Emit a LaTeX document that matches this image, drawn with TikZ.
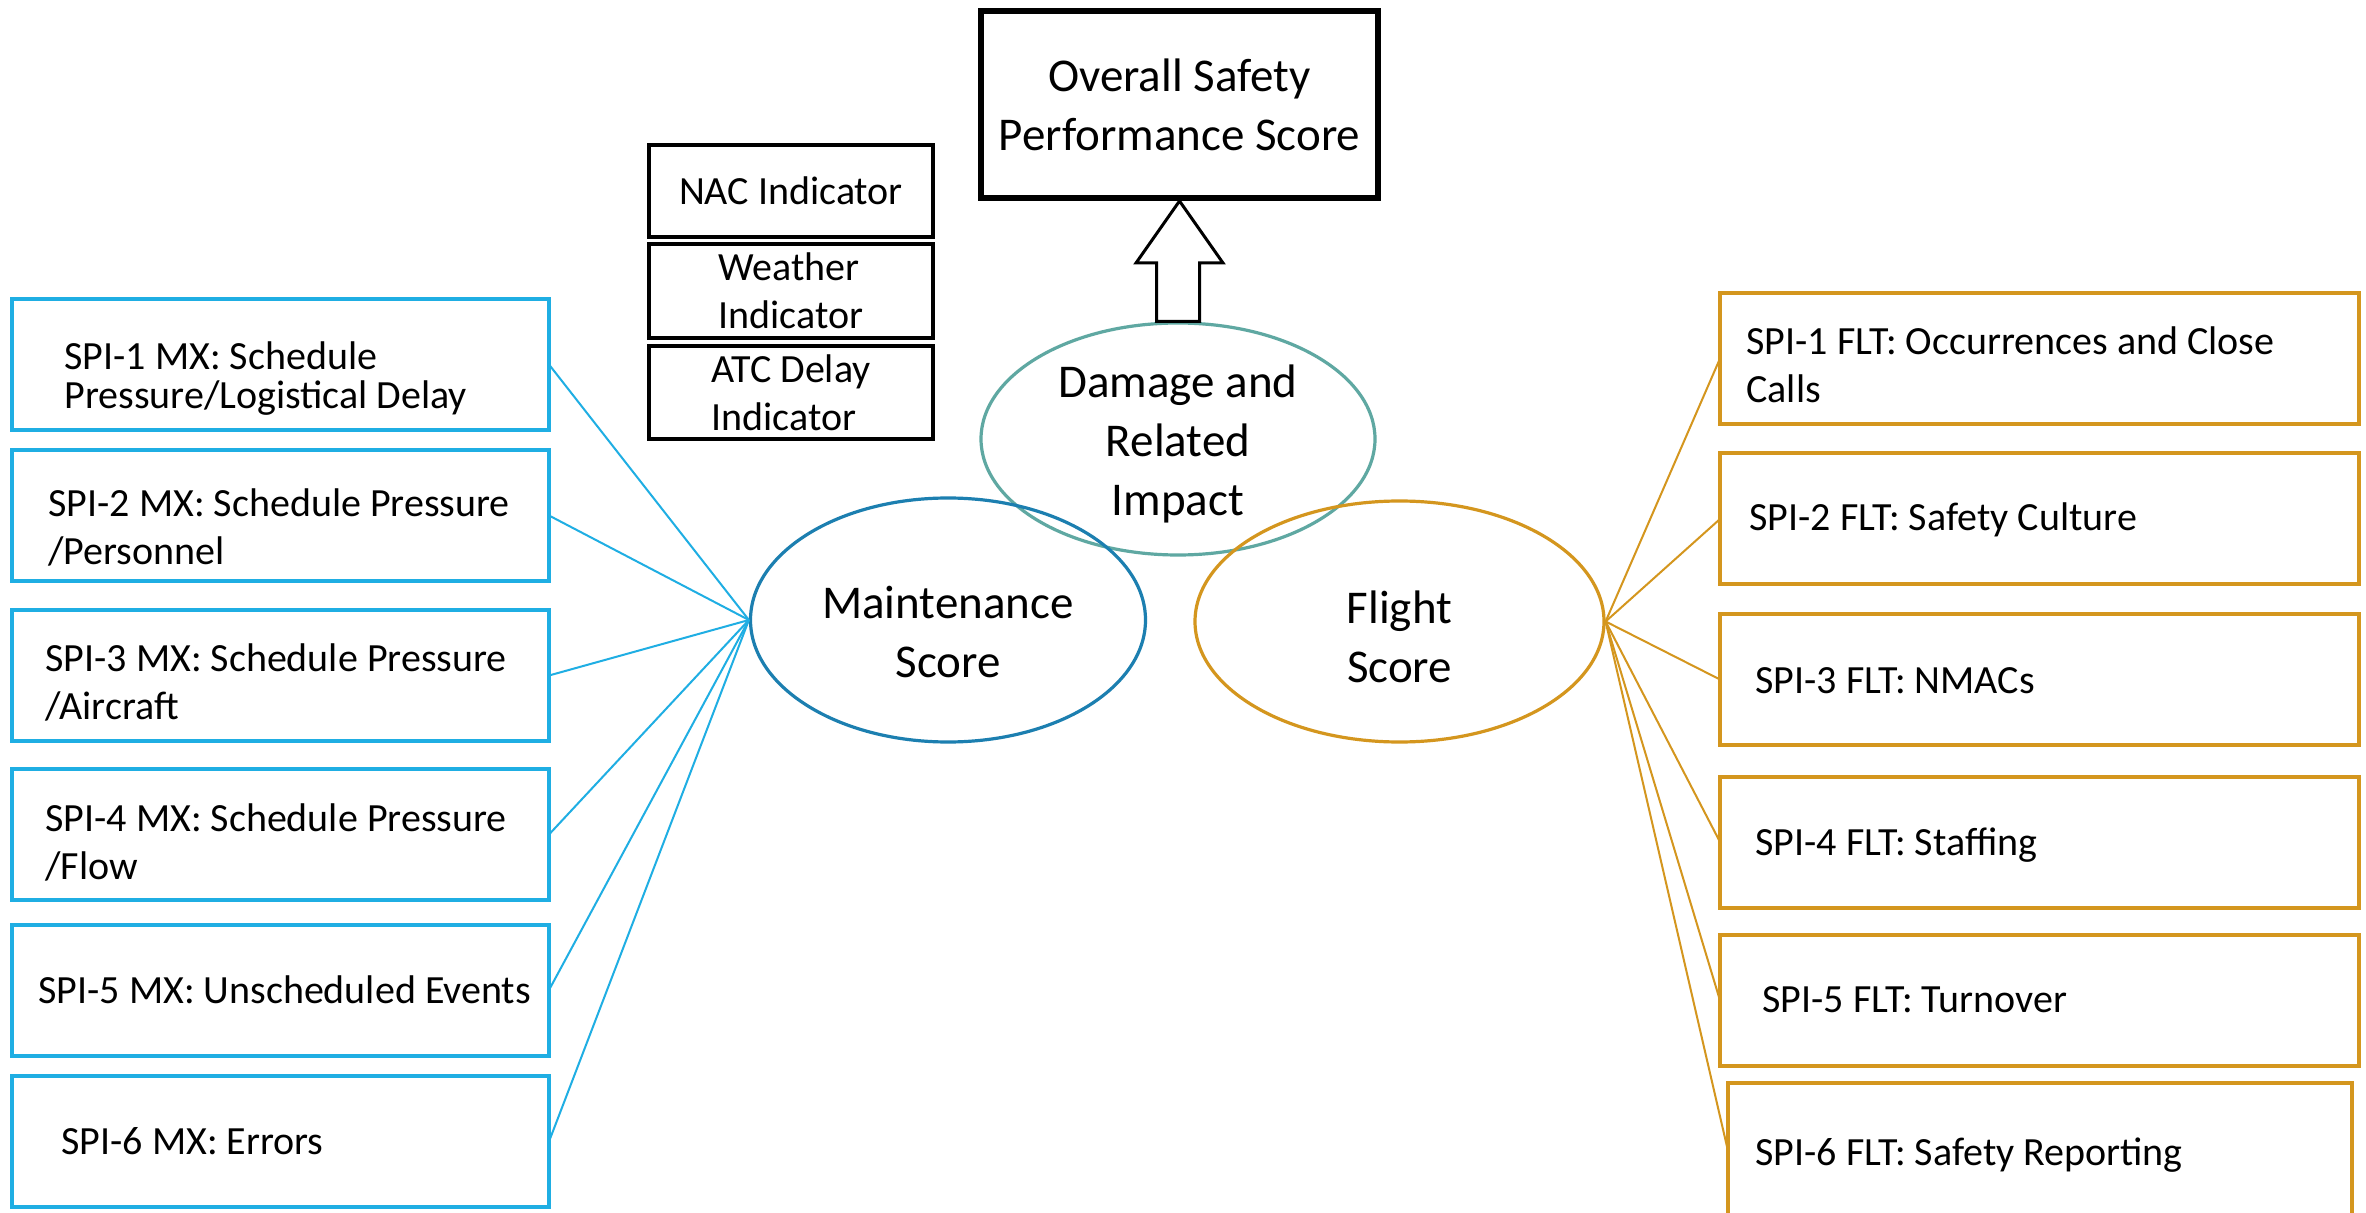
\documentclass[tikz,border=0pt]{standalone}
\usepackage{fontspec}
\setmainfont{Carlito}
\usetikzlibrary{shapes.geometric,calc}
\definecolor{mxblue}{HTML}{1FAEE3}
\definecolor{mxdark}{HTML}{1C7FB0}
\definecolor{dmgteal}{HTML}{5FA8A2}
\definecolor{fltgold}{HTML}{D4961E}
\frenchspacing
\begin{document}
\begin{tikzpicture}[x=0.5pt,y=-0.5pt,
  small/.style={font=\fontsize{20}{24}\selectfont},
  big/.style={font=\fontsize{23.5}{29.5}\selectfont},
  mxbox/.style={draw=mxblue, line width=2pt, rectangle, minimum width=268.5pt, minimum height=65.5pt, inner sep=0pt, outer sep=0pt},
  fltbox/.style={draw=fltgold, line width=2pt, rectangle, minimum width=319.5pt, minimum height=65.5pt, inner sep=0pt, outer sep=0pt},
  lbl/.style={anchor=west, inner sep=0pt, align=left, small},
  indbox/.style={draw=black, line width=1.6pt, rectangle, minimum width=142pt, align=left, inner sep=0pt, small},
  score/.style={ellipse, line width=1.6pt, inner sep=0pt},
  slbl/.style={align=center, inner sep=0pt, big},
  mxline/.style={draw=mxblue, line width=1pt},
  fltline/.style={draw=fltgold, line width=1pt},
  barrow/.style={draw=black, line width=1.5pt, fill=white, line join=miter},
]
\path[use as bounding box, fill=white] (0,0) rectangle (2366,1213);
\clip (0,0) rectangle (2366,1213);

% top box and indicators
\node[draw=black, line width=3pt, minimum width=198.5pt, minimum height=93.5pt, align=center, inner sep=0pt, big] (overall) at (1179.5,104.5) {Overall Safety\\Performance Score};
\node[indbox, minimum height=46pt] (nac) at (791,191) {NAC Indicator};
\node[indbox, minimum height=47pt] (wx) at (791,291) {Weather\\Indicator};
\node[indbox, minimum height=46.5pt] (atc) at (791,392.5) {ATC Delay\\Indicator};

% ellipses
\node[score, draw=dmgteal, minimum width=197pt, minimum height=116pt] (dmg) at (1178,439) {};
\node[slbl] (dmgT) at ($(dmg.center)+(0,5)$) {Damage and\\Related\\Impact};
\node[score, draw=mxdark, minimum width=197.5pt, minimum height=122pt] (maint) at (948,620) {};
\node[slbl] (maintT) at ($(maint.center)+(0,12)$) {Maintenance\\Score};
\node[score, draw=fltgold, minimum width=204.5pt, minimum height=120.5pt] (flt) at (1399.5,621.5) {};
\node[slbl] (fltT) at ($(flt.center)+(0,15)$) {Flight\\Score};

% block arrow
\draw[barrow] let \p1=(dmg.north), \p2=(overall.south) in
  (\x1-10.75pt,\y1) -- (\x1-10.75pt,\y2-31pt) -- (\x2-21.75pt,\y2-31pt) -- (\x2,\y2)
  -- (\x2+21.75pt,\y2-31pt) -- (\x1+10.75pt,\y2-31pt) -- (\x1+10.75pt,\y1) -- cycle;

% maintenance SPIs
\node[mxbox] (m1) at (280.5,364.5) {};
\node[lbl, font=\fontsize{20}{19.5}\selectfont] (m1T) at ($(m1.west)+(52,14.5)$) {SPI-1 MX: Schedule\\Pressure/Logistical Delay};
\node[mxbox] (m2) at (280.5,515.5) {};
\node[lbl] (m2T) at ($(m2.west)+(36,12)$) {SPI-2 MX: Schedule Pressure\\/Personnel};
\node[mxbox] (m3) at (280.5,675.5) {};
\node[lbl] (m3T) at ($(m3.west)+(33,7)$) {SPI-3 MX: Schedule Pressure\\/Aircraft};
\node[mxbox] (m4) at (280.5,834.5) {};
\node[lbl] (m4T) at ($(m4.west)+(33,8)$) {SPI-4 MX: Schedule Pressure\\/Flow};
\node[mxbox] (m5) at (280.5,990) {};
\node[lbl] (m5T) at ($(m5.west)+(26,0)$) {SPI-5 MX: Unscheduled Events};
\node[mxbox] (m6) at (280.5,1141.5) {};
\node[lbl] (m6T) at ($(m6.west)+(49,0)$) {SPI-6 MX: Errors};

% flight SPIs
\node[fltbox] (f1) at (2039.5,358.5) {};
\node[lbl] (f1T) at ($(f1.west)+(26,6)$) {SPI-1 FLT: Occurrences and Close\\Calls};
\node[fltbox] (f2) at (2039.5,519) {};
\node[lbl] (f2T) at ($(f2.west)+(29,1)$) {SPI-2 FLT: Safety Culture};
\node[fltbox] (f3) at (2039.5,679.5) {};
\node[lbl] (f3T) at ($(f3.west)+(35,1)$) {SPI-3 FLT: NMACs};
\node[fltbox] (f4) at (2039.5,842) {};
\node[lbl] (f4T) at ($(f4.west)+(35,3)$) {SPI-4 FLT: Staffing};
\node[fltbox] (f5) at (2039.5,1000.5) {};
\node[lbl] (f5T) at ($(f5.west)+(42,-1)$) {SPI-5 FLT: Turnover};
\node[fltbox, minimum width=312pt, minimum height=68pt] (f6) at (2040,1151) {};
\node[lbl] (f6T) at ($(f6.west)+(27,4)$) {SPI-6 FLT: Safety Reporting};

% connectors
\foreach \m in {m1,m2,m3,m4,m5,m6} \draw[mxline] (\m.east) -- (maint.west);
\foreach \f in {f1,f2,f3,f4,f5,f6} \draw[fltline] (flt.east) -- (\f.west);
\end{tikzpicture}
\end{document}
